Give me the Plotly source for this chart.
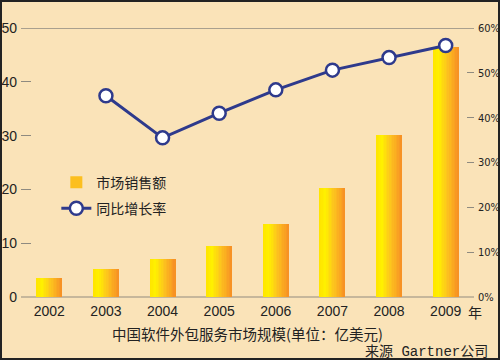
import plotly.graph_objects as go

years = ["2002", "2003", "2004", "2005", "2006", "2007", "2008", "2009"]
sales = [3.6, 5.15, 7.05, 9.5, 13.6, 20.3, 30.1, 46.5]
growth_years = ["2003", "2004", "2005", "2006", "2007", "2008", "2009"]
growth = [44.9, 35.5, 41.0, 46.2, 50.6, 53.4, 56.1]
left_ticks = [0, 10, 20, 30, 40, 50]
right_ticks = [0, 10, 20, 30, 40, 50, 60]
right_labels = ["0%", "10%", "20%", "30%", "40%", "50%", "60%"]
bar_name = "市场销售额"
line_name = "同比增长率"
x_title = "中国软件外包服务市场规模(单位：亿美元)"
source = "来源 Gartner公司"
year_unit = "年"

BG = "#FAE3B8"
NAVY = "#2E3A8C"
GRID = "#8E8A80"
CN = "Noto Sans CJK SC"

W, H = 500, 360
L, R, T, B = 21, 26, 28, 63
pw, ph = W - L - R, H - T - B

# gradient colour stops (position, rgb)
stops = [(0.0, (255, 228, 0)), (0.22, (255, 240, 0)), (0.55, (253, 196, 30)), (1.0, (247, 142, 36))]


def grad(t):
    for (p0, c0), (p1, c1) in zip(stops[:-1], stops[1:]):
        if p0 <= t <= p1:
            f = (t - p0) / (p1 - p0)
            return "rgb(%d,%d,%d)" % tuple(round(a + (b - a) * f) for a, b in zip(c0, c1))
    return "rgb(%d,%d,%d)" % stops[-1][1]


fig = go.Figure()
bw = 0.46
n = 16
for k in range(n):
    off = -bw / 2 + k * bw / n
    fig.add_trace(go.Bar(
        x=years, y=sales, width=bw - k * bw / n, offset=off,
        marker=dict(color=grad((k + 0.5) / n), line=dict(width=0)),
        name=bar_name, showlegend=(k == 9), legendgroup="a",
        hoverinfo="skip",
    ))

fig.add_trace(go.Scatter(
    x=growth_years, y=growth, yaxis="y2", mode="lines+markers",
    line=dict(color=NAVY, width=3),
    marker=dict(size=13, color="white", line=dict(color=NAVY, width=2.5)),
    name=line_name, legendgroup="b",
))

fig.update_layout(
    width=W, height=H, autosize=False,
    margin=dict(l=L, r=R, t=T, b=B, autoexpand=False),
    paper_bgcolor=BG, plot_bgcolor=BG,
    barmode="overlay", bargap=0,
    font=dict(family="Liberation Sans, " + CN, size=14, color="#222"),
    xaxis=dict(type="category", categoryorder="array", categoryarray=years,
               range=[-0.5, 7.5], showgrid=False, zeroline=False, showline=False,
               ticks="", tickfont=dict(size=14, color="#222"), automargin=False,
               ticktext=years, tickvals=years, ticklabelstandoff=4),
    yaxis=dict(range=[0, 50], tickvals=left_ticks, showgrid=False, automargin=False,
               zeroline=True, zerolinecolor="#C6B79B", zerolinewidth=2,
               ticks="inside", ticklen=10, tickcolor=GRID, tickwidth=1.3,
               showline=False, tickfont=dict(size=14, color="#222"), ticklabelstandoff=3),
    yaxis2=dict(range=[0, 60], overlaying="y", side="right", tickvals=right_ticks,
                ticktext=right_labels, showgrid=False, zeroline=False, automargin=False,
                ticks="inside", ticklen=7, tickcolor=GRID, tickwidth=1.3,
                tickfont=dict(family="DejaVu Sans Condensed, Liberation Sans Narrow, sans-serif",
                              size=11, color="#222"), ticklabelstandoff=3),
    legend=dict(x=0.078, y=0.485, xanchor="left", yanchor="top",
                bgcolor="rgba(0,0,0,0)", traceorder="grouped", tracegroupgap=5,
                font=dict(family=CN, size=14, color="#222")),
    showlegend=True,
)

# top grid line at max of left axis
fig.add_shape(type="line", xref="paper", yref="y", x0=0, x1=1, y0=50, y1=50,
              line=dict(color=GRID, width=1.5), layer="below")
# outer frame
fig.add_shape(type="rect", xref="paper", yref="paper",
              x0=-(L - 1) / pw, x1=1 + (R - 1) / pw,
              y0=-(B - 1) / ph, y1=1 + (T - 1) / ph,
              line=dict(color="#222", width=2))

fig.add_annotation(text=year_unit, xref="x", yref="paper", x=len(years) - 1, y=0,
                   xshift=29, yshift=-15, showarrow=False, yanchor="middle",
                   font=dict(family=CN, size=14, color="#222"))
fig.add_annotation(text=x_title, xref="paper", yref="paper", x=0.5, y=0,
                   yshift=-36, showarrow=False, yanchor="middle",
                   font=dict(family=CN, size=14.5, color="#222"))
fig.add_annotation(text=source, xref="paper", yref="paper", x=1, y=0,
                   xshift=16, yshift=-55, xanchor="right", yanchor="middle",
                   showarrow=False,
                   font=dict(family="Liberation Mono, " + CN, size=14, color="#222"))

fig.write_html("out.html", config={"displayModeBar": False},
               post_script="document.body.style.margin='0px';document.body.style.overflow='hidden';")
